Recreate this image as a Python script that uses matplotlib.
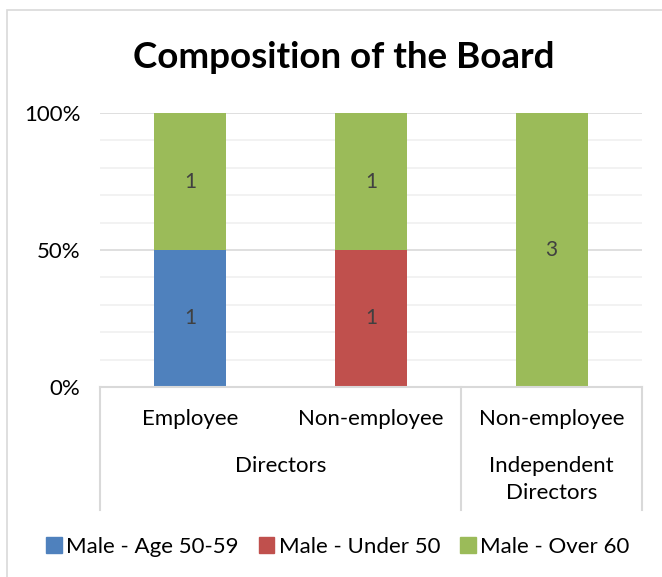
import numpy as np
import matplotlib.pyplot as plt
from matplotlib.patches import Rectangle

plt.rcParams['font.family'] = ['Lato', 'DejaVu Sans']

# data
sub_categories = ['Employee', 'Non-employee', 'Non-employee']
groups = ['Directors', 'Independent\nDirectors']
group_sizes = [2, 1]
series_names = ['Male - Age 50-59', 'Male - Under 50', 'Male - Over 60']
series_values = [
    [1, 0, 0],
    [0, 1, 0],
    [1, 1, 3],
]
colors = ['#4f81bd', '#c0504d', '#9bbb59']

W, H = 662, 577
fig = plt.figure(figsize=(W / 100, H / 100), dpi=100)


def fx(px):
    return px / W


def fy(py):
    return 1 - py / H


# outer chart border
fig.patches.append(Rectangle((fx(7), fy(700)), 1, fy(10) - fy(700), transform=fig.transFigure,
                             fill=False, edgecolor='#d9d9d9', linewidth=1.2))

ax = fig.add_axes([fx(100), fy(387), fx(642) - fx(100), fy(113) - fy(387)])

vals = np.array(series_values, dtype=float)
totals = vals.sum(axis=0)
pct = vals / totals * 100
x = np.arange(len(sub_categories))
bottom = np.zeros(len(sub_categories))
for name, row, raw, c in zip(series_names, pct, vals, colors):
    ax.bar(x, row, 0.4, bottom=bottom, color=c, label=name, zorder=3)
    for xi, b, h, r in zip(x, bottom, row, raw):
        if r > 0:
            ax.text(xi, b + h / 2, '{:g}'.format(r), ha='center', va='center',
                    fontsize=15, color='#404040', zorder=4)
    bottom += row

ax.set_xlim(-0.5, len(sub_categories) - 0.5)
ax.set_ylim(0, 100)
ax.set_yticks([0, 50, 100])
ax.set_yticklabels(['0%', '50%', '100%'], fontsize=16)
ax.tick_params(axis='y', length=0, pad=14)
ax.set_xticks([])
for s in ax.spines.values():
    s.set_visible(False)
for yv in range(10, 100, 10):
    ax.axhline(yv, color='#f0f0f0' if yv != 50 else '#d9d9d9', linewidth=1.2, zorder=1)
ax.axhline(100, color='#d9d9d9', linewidth=1.2, zorder=1)

# multi-level category axis
axis_col = '#d9d9d9'
y_bot = -(510 - 387) / 274 * 100
ax.plot([-0.5, 2.5], [0, 0], color=axis_col, linewidth=1.5, clip_on=False, zorder=5)
edges = np.concatenate([[0], np.cumsum(group_sizes)]) - 0.5
for e in edges:
    ax.plot([e, e], [0, y_bot], color=axis_col, linewidth=1.5, clip_on=False)
for xi, lab in zip(x, sub_categories):
    ax.text(xi, -(419 - 387) / 274 * 100, lab, ha='center', va='center', fontsize=16)
for i, g in enumerate(groups):
    cx = (edges[i] + edges[i + 1]) / 2
    ax.text(cx, -(456 - 387) / 274 * 100, g, ha='center', va='top', fontsize=16,
            linespacing=1.45)

handles = [Rectangle((0, 0), 1, 1, color=c) for c in colors]
fig.legend(handles, series_names, loc='center', bbox_to_anchor=(fx(338), fy(547)),
           ncol=3, frameon=False, fontsize=16, handlelength=0.7, handleheight=0.7,
           handletextpad=0.2, columnspacing=0.9)

fig.text(fx(344), fy(57), 'Composition of the Board', ha='center', va='center',
         fontsize=26.5, fontweight='bold')

fig.savefig('out.png', dpi=100)
